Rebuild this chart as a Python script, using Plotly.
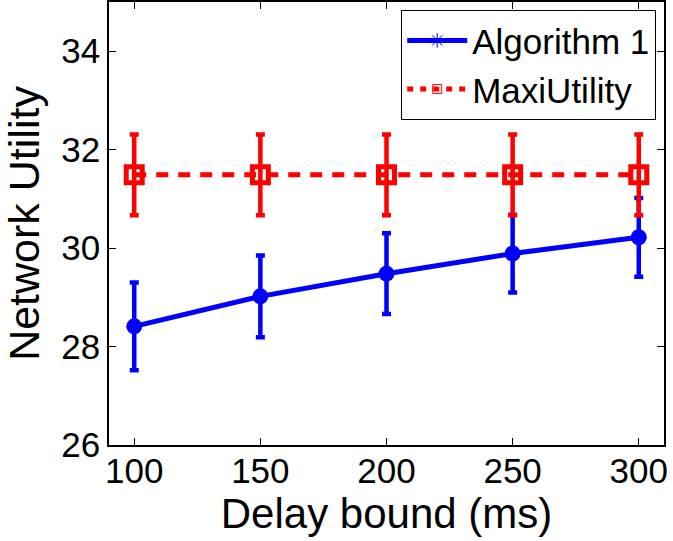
import plotly.graph_objects as go

# Delay bound (ms)
delay_bound = [100, 150, 200, 250, 300]

# Network utility: mean and error half-width per delay bound
algo1_mean = [28.41, 29.02, 29.48, 29.89, 30.22]
algo1_err = [0.89, 0.83, 0.82, 0.79, 0.80]

maxi_mean = [31.49, 31.49, 31.49, 31.49, 31.49]
maxi_err = [0.82, 0.82, 0.82, 0.82, 0.82]

y_ticks = [26, 28, 30, 32, 34]
x_ticks = [100, 150, 200, 250, 300]

BLUE = "rgb(0,0,255)"
RED = "rgb(255,0,0)"
FONT = "Liberation Sans, Arial, sans-serif"

fig = go.Figure()

# Algorithm 1 curve with error bars
fig.add_trace(go.Scatter(
    x=delay_bound, y=algo1_mean, mode="lines+markers", showlegend=False,
    line=dict(color=BLUE, width=5),
    marker=dict(symbol="circle", size=16, color=BLUE),
    error_y=dict(type="data", array=algo1_err, visible=True,
                 color=BLUE, thickness=4.5, width=4.5),
))

# MaxiUtility curve with error bars
fig.add_trace(go.Scatter(
    x=delay_bound, y=maxi_mean, mode="lines+markers", showlegend=False,
    line=dict(color=RED, width=5, dash="12px,10px"),
    marker=dict(symbol="square-open", size=16, color=RED,
                line=dict(color=RED, width=5)),
    error_y=dict(type="data", array=maxi_err, visible=True,
                 color=RED, thickness=4.5, width=4.5),
))

# Legend entries
fig.add_trace(go.Scatter(
    x=[None], y=[None], mode="lines+markers", name="Algorithm 1",
    line=dict(color=BLUE, width=5),
    marker=dict(symbol="asterisk-open", size=12, color=BLUE,
                line=dict(color=BLUE, width=1)),
))
fig.add_trace(go.Scatter(
    x=[None], y=[None], mode="lines+markers", name="MaxiUtility",
    line=dict(color=RED, width=5, dash="6px,7px"),
    marker=dict(symbol="square-open", size=9, color=RED,
                line=dict(color=RED, width=1)),
))

axis_common = dict(
    showline=True, linecolor="black", linewidth=1.5, mirror="ticks",
    ticks="inside", ticklen=7, tickwidth=1, tickcolor="black",
    showgrid=False, zeroline=False,
    tickfont=dict(family=FONT, size=35, color="black"),
)

fig.update_xaxes(
    range=[90, 310], tickvals=x_ticks, ticktext=[str(v) for v in x_ticks],
    ticklabelstandoff=-6,
    title=dict(text="Delay bound (ms)", font=dict(family=FONT, size=42, color="black"),
               standoff=0),
    **axis_common,
)
fig.update_yaxes(
    range=[26, 35], tickvals=y_ticks, ticktext=[str(v) for v in y_ticks],
    title=dict(text="Network Utility", font=dict(family=FONT, size=43, color="black"),
               standoff=8),
    **axis_common,
)

fig.update_layout(
    width=673, height=541,
    margin=dict(l=109, r=9, t=0, b=96),
    plot_bgcolor="white", paper_bgcolor="white",
    legend=dict(
        x=0.9856, y=0.982, xanchor="right", yanchor="top",
        bgcolor="white", bordercolor="black", borderwidth=1.2,
        font=dict(family=FONT, size=35, color="black"),
        itemwidth=60, tracegroupgap=0,
    ),
)

fig.write_html("out.html")
